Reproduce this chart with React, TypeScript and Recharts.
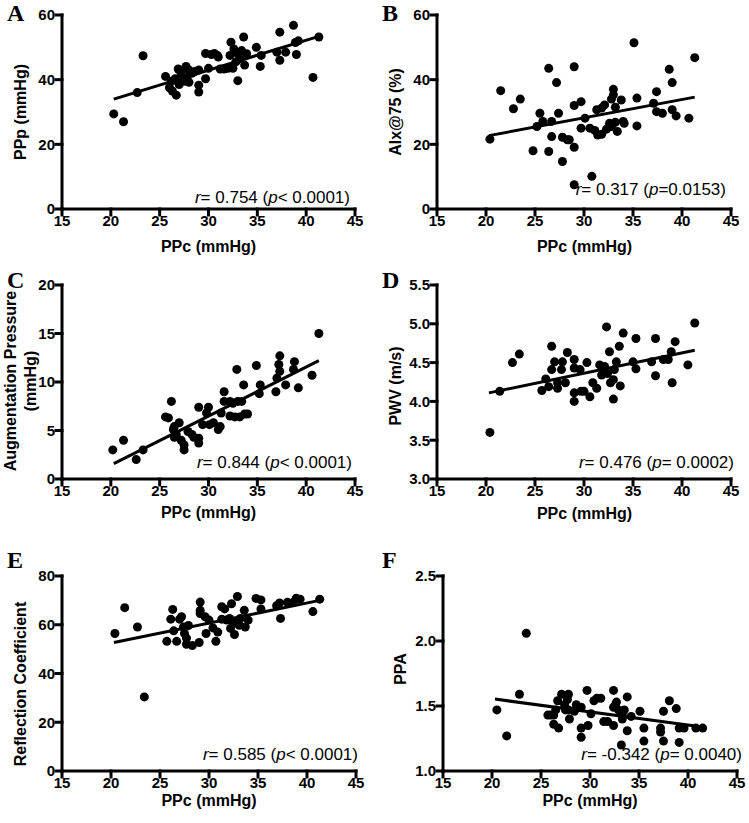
import React from 'react';
import { ScatterChart, Scatter, XAxis, YAxis, ReferenceLine } from 'recharts';

// ---------- data ----------
const xTicks = [15, 20, 25, 30, 35, 40, 45];

const pointsA: [number, number][] = [
  [20.3, 29.4], [21.3, 27.0], [22.7, 36.0], [23.3, 47.4], [25.6, 41.0], [26.0, 37.5], [26.3, 36.5],
  [26.7, 35.2], [26.2, 39.5], [26.6, 40.3], [26.9, 43.3], [27.2, 42.0], [27.5, 39.5], [27.7, 44.1],
  [27.8, 40.5], [28.0, 39.2], [28.3, 42.0], [28.6, 42.5], [29.0, 43.0], [29.0, 38.3], [29.0, 36.2],
  [29.7, 40.3], [29.7, 48.1], [30.0, 43.5], [30.6, 48.1], [30.9, 47.5], [31.2, 43.3], [31.6, 43.3],
  [32.0, 43.5], [32.2, 47.5], [32.3, 51.6], [32.5, 43.5], [32.6, 49.5], [33.0, 39.7], [33.0, 48.0],
  [33.2, 46.5], [33.4, 49.0], [33.6, 53.2], [33.7, 44.5], [33.9, 48.0], [34.9, 50.0], [35.3, 44.1],
  [35.4, 47.5], [37.0, 48.5], [37.3, 54.7], [37.3, 46.0], [37.9, 48.5], [38.7, 56.8], [38.9, 51.5],
  [39.0, 47.8], [39.2, 52.0], [40.7, 40.7], [41.3, 53.2], [32.8, 45.5], [31.0, 47.0], [28.0, 43.0],
  [27.0, 38.5], [30.3, 47.8],
];
const lineA = [{ x: 20.3, y: 34.0 }, { x: 41.3, y: 53.4 }];

const pointsB: [number, number][] = [
  [20.4, 21.6], [21.5, 36.6], [22.8, 31.0], [23.5, 34.0], [24.8, 18.0], [25.2, 25.5], [25.5, 29.6],
  [26.4, 43.5], [25.8, 27.1], [26.7, 27.1], [26.7, 22.4], [27.2, 39.1], [27.4, 29.6], [26.4, 17.8],
  [27.8, 14.7], [27.8, 22.2], [28.3, 21.4], [28.5, 21.4], [29.0, 19.1], [29.0, 32.0], [29.0, 44.0],
  [29.0, 7.5], [29.7, 33.2], [29.7, 25.0], [30.1, 28.1], [30.6, 25.0], [30.8, 10.1], [31.1, 24.3],
  [31.3, 30.7], [31.4, 22.9], [31.8, 23.1], [31.8, 31.2], [32.1, 32.2], [32.3, 24.7], [32.6, 26.5],
  [32.8, 34.0], [33.0, 35.3], [33.0, 37.0], [33.2, 31.5], [32.8, 25.5], [33.2, 26.8], [33.4, 24.0],
  [33.8, 33.7], [34.0, 27.1], [34.1, 26.5], [35.1, 51.4], [35.4, 34.3], [35.4, 25.7], [37.1, 32.7],
  [37.4, 36.3], [37.4, 30.1], [38.0, 29.6], [38.7, 43.2], [39.0, 30.7], [39.0, 39.1], [39.4, 28.8],
  [40.7, 28.1], [41.3, 46.8],
];
const lineB = [{ x: 20.3, y: 22.7 }, { x: 41.3, y: 34.6 }];

const pointsC: [number, number][] = [
  [20.2, 3.0], [21.3, 4.0], [22.6, 2.0], [23.3, 3.0], [25.6, 6.4], [25.9, 6.3], [26.2, 8.0],
  [26.4, 5.1], [26.5, 5.4], [26.7, 4.6], [26.5, 4.3], [27.0, 5.8], [27.2, 4.0], [27.5, 3.0],
  [27.5, 3.5], [27.9, 4.9], [28.3, 4.6], [28.5, 4.3], [29.0, 7.4], [29.0, 3.7], [29.0, 4.2],
  [29.4, 5.6], [29.8, 6.8], [30.0, 7.4], [30.1, 5.6], [30.5, 5.8], [31.0, 5.1], [31.2, 5.4],
  [31.3, 6.8], [31.6, 9.0], [31.6, 8.0], [32.2, 8.0], [32.2, 6.5], [32.5, 7.8], [32.7, 6.4],
  [32.9, 11.3], [33.0, 8.0], [33.2, 6.4], [33.4, 8.0], [33.6, 9.7], [33.7, 6.7], [34.0, 6.7],
  [34.9, 11.7], [35.2, 8.8], [35.3, 9.7], [36.9, 9.0], [37.0, 10.4], [37.2, 11.8], [37.3, 12.7],
  [37.3, 11.1], [37.9, 9.7], [38.7, 11.3], [38.8, 12.1], [39.2, 9.4], [40.6, 10.7], [41.3, 15.0],
];
const lineC = [{ x: 20.3, y: 1.58 }, { x: 41.3, y: 12.2 }];

const pointsD: [number, number][] = [
  [20.4, 3.6], [21.4, 4.13], [22.7, 4.5], [23.4, 4.61], [25.7, 4.14], [26.1, 4.29], [26.4, 4.19],
  [26.7, 4.41], [26.7, 4.71], [27.0, 4.51], [27.3, 4.24], [27.3, 4.17], [27.7, 4.41], [27.8, 4.51],
  [28.1, 4.24], [28.3, 4.63], [29.0, 4.54], [29.0, 4.43], [29.0, 4.11], [29.0, 4.0], [29.6, 4.41],
  [29.7, 4.13], [30.0, 4.13], [30.3, 4.5], [30.6, 4.06], [30.9, 4.24], [31.3, 4.17], [31.6, 4.47],
  [31.8, 4.34], [32.1, 4.45], [32.3, 4.96], [32.4, 4.36], [32.6, 4.64], [32.7, 4.24], [33.0, 4.28],
  [33.0, 4.03], [33.1, 4.41], [33.3, 4.51], [33.6, 4.71], [33.7, 4.2], [34.0, 4.88], [35.3, 4.81],
  [35.3, 4.42], [35.0, 4.51], [36.9, 4.51], [37.3, 4.81], [37.3, 4.33], [38.1, 4.54], [38.6, 4.54],
  [38.9, 4.64], [39.0, 4.24], [39.3, 4.77], [40.6, 4.47], [41.3, 5.01],
];
const lineD = [{ x: 20.3, y: 4.11 }, { x: 41.3, y: 4.66 }];

const pointsE: [number, number][] = [
  [20.4, 56.4], [21.4, 67.0], [22.7, 59.1], [23.4, 30.4], [25.7, 53.2], [26.1, 62.3], [26.3, 66.3],
  [26.4, 57.5], [26.7, 53.2], [27.0, 62.3], [27.2, 63.3], [27.4, 59.1], [27.5, 56.4], [27.7, 54.5],
  [27.7, 52.0], [27.9, 59.7], [28.3, 51.5], [29.0, 52.7], [29.1, 69.3], [29.1, 65.9], [29.1, 64.6],
  [29.6, 63.3], [29.7, 56.4], [30.0, 61.9], [30.4, 58.7], [30.7, 53.2], [30.9, 57.0], [31.3, 67.4],
  [31.3, 62.3], [31.6, 66.5], [31.8, 61.9], [32.1, 62.6], [32.2, 58.5], [32.3, 68.6], [32.5, 60.5],
  [32.6, 56.0], [32.9, 71.6], [32.8, 61.2], [33.1, 59.8], [33.2, 62.6], [33.6, 65.9], [33.7, 59.1],
  [34.0, 61.9], [34.8, 70.8], [35.3, 70.2], [35.3, 66.5], [36.9, 67.8], [37.2, 68.9], [37.3, 62.6],
  [38.0, 69.2], [38.6, 69.2], [38.9, 70.9], [39.3, 70.5], [40.6, 65.4], [41.3, 70.5],
];
const lineE = [{ x: 20.3, y: 52.7 }, { x: 41.3, y: 70.0 }];

const pointsF: [number, number][] = [
  [20.5, 1.47], [21.5, 1.27], [22.8, 1.59], [23.5, 2.06], [25.7, 1.43], [26.0, 1.43], [26.3, 1.43],
  [26.5, 1.47], [26.7, 1.54], [26.3, 1.36], [26.8, 1.33], [27.1, 1.59], [27.4, 1.51], [27.5, 1.47],
  [27.7, 1.55], [27.8, 1.59], [27.8, 1.47], [27.9, 1.40], [28.4, 1.46], [28.6, 1.51], [29.1, 1.49],
  [29.1, 1.33], [29.1, 1.26], [29.7, 1.62], [29.8, 1.35], [30.1, 1.44], [30.4, 1.54], [30.7, 1.56],
  [31.1, 1.56], [31.4, 1.38], [31.8, 1.38], [32.4, 1.62], [32.4, 1.49], [32.4, 1.35], [32.6, 1.51],
  [32.7, 1.53], [32.9, 1.47], [33.2, 1.20], [33.3, 1.44], [33.3, 1.40], [33.5, 1.47], [33.8, 1.31],
  [33.8, 1.57], [34.2, 1.42], [35.1, 1.46], [35.5, 1.33], [35.5, 1.23], [37.2, 1.33], [37.2, 1.30],
  [37.5, 1.46], [37.5, 1.23], [38.1, 1.54], [38.8, 1.48], [39.1, 1.22], [39.1, 1.33], [39.6, 1.33],
  [40.8, 1.33], [41.5, 1.33],
];
const lineF = [{ x: 20.3, y: 1.553 }, { x: 41.3, y: 1.34 }];

const ticksA = [0, 20, 40, 60];
const ticksB = [0, 20, 40, 60];
const ticksC = [0, 5, 10, 15, 20];
const ticksD = [3.0, 3.5, 4.0, 4.5, 5.0, 5.5];
const ticksE = [0, 20, 40, 60, 80];
const ticksF = [1.0, 1.5, 2.0, 2.5];

// ---------- styles ----------
const SANS = '"Liberation Sans", Arial, Helvetica, sans-serif';
const SERIF = '"Liberation Serif", "Times New Roman", serif';
const axisStyle = { stroke: '#000', strokeWidth: 3, strokeLinecap: 'square' as const };
const tickStyle = { fill: '#000', fontSize: 15, fontWeight: 700, fontFamily: SANS };

const Dot = (props: any) =>
  props.cx == null ? null : <circle cx={props.cx} cy={props.cy} r={4.5} fill="#000" />;

type PanelCfg = {
  left: number; top: number; width: number; height: number;
  mt: number; mr: number; xh: number; yw: number;
  domain: [number, number]; ticks: number[]; fixed: boolean;
  points: [number, number][]; line: { x: number; y: number }[];
};

const panels: PanelCfg[] = [
  { left: 0, top: 0, width: 375, height: 270, mt: 15, mr: 20, xh: 61, yw: 62, domain: [0, 60], ticks: ticksA, fixed: false, points: pointsA, line: lineA },
  { left: 375, top: 0, width: 374, height: 270, mt: 15, mr: 18, xh: 61, yw: 62, domain: [0, 60], ticks: ticksB, fixed: false, points: pointsB, line: lineB },
  { left: 0, top: 270, width: 375, height: 270, mt: 15, mr: 20, xh: 61, yw: 62, domain: [0, 20], ticks: ticksC, fixed: false, points: pointsC, line: lineC },
  { left: 375, top: 270, width: 374, height: 270, mt: 15, mr: 18, xh: 61, yw: 62, domain: [3, 5.5], ticks: ticksD, fixed: true, points: pointsD, line: lineD },
  { left: 0, top: 545, width: 375, height: 278, mt: 31, mr: 19, xh: 52, yw: 62, domain: [0, 80], ticks: ticksE, fixed: false, points: pointsE, line: lineE },
  { left: 375, top: 545, width: 374, height: 278, mt: 31, mr: 12, xh: 52, yw: 68, domain: [1, 2.5], ticks: ticksF, fixed: true, points: pointsF, line: lineF },
];

function Panel({ cfg }: { cfg: PanelCfg }) {
  const data = cfg.points.map(([x, y]) => ({ x, y }));
  return (
    <div style={{ position: 'absolute', left: cfg.left, top: cfg.top }}>
      <ScatterChart width={cfg.width} height={cfg.height} margin={{ top: cfg.mt, right: cfg.mr, bottom: 0, left: 0 }}>
        <XAxis
          type="number" dataKey="x" domain={[15, 45]} ticks={xTicks} interval={0}
          height={cfg.xh} tickSize={6} tickMargin={0}
          axisLine={axisStyle} tickLine={axisStyle} tick={tickStyle} allowDataOverflow
        />
        <YAxis
          type="number" dataKey="y" domain={cfg.domain} ticks={cfg.ticks} interval={0}
          width={cfg.yw} tickSize={6} tickMargin={1}
          tickFormatter={(v: number) => (cfg.fixed ? v.toFixed(1) : String(v))}
          axisLine={axisStyle} tickLine={axisStyle} tick={tickStyle} allowDataOverflow
        />
        <ReferenceLine segment={cfg.line} stroke="#000" strokeWidth={3} ifOverflow="visible" />
        <Scatter data={data} shape={Dot} isAnimationActive={false} />
      </ScatterChart>
    </div>
  );
}

const letters = [
  { t: 'A', x: 7, y: 1 }, { t: 'B', x: 382, y: 1 },
  { t: 'C', x: 7, y: 268 }, { t: 'D', x: 382, y: 268 },
  { t: 'E', x: 7, y: 548 }, { t: 'F', x: 382, y: 548 },
];

const xTitles = [
  { cx: 208.5, top: 238 }, { cx: 584.5, top: 238 },
  { cx: 208.5, top: 504 }, { cx: 584.5, top: 505 },
  { cx: 209, top: 792 }, { cx: 590, top: 792 },
];

const yTitles = [
  { lines: ['PPp (mmHg)'], cx: 21, cy: 112 },
  { lines: ['AIx@75 (%)'], cx: 396, cy: 112 },
  { lines: ['Augmentation Pressure', '(mmHg)'], cx: 21, cy: 381 },
  { lines: ['PWV (m/s)'], cx: 396, cy: 386 },
  { lines: ['Reflection Coefficient'], cx: 21, cy: 684 },
  { lines: ['PPA'], cx: 401, cy: 669 },
];

const stats = [
  { r: '0.754', p: '< 0.0001', right: 350, cy: 198 },
  { r: '0.317', p: '=0.0153', right: 726, cy: 190 },
  { r: '0.844', p: '< 0.0001', right: 352, cy: 463 },
  { r: '0.476', p: '= 0.0002', right: 734, cy: 463 },
  { r: '0.585', p: '< 0.0001', right: 358, cy: 755 },
  { r: '-0.342', p: '= 0.0040', right: 742, cy: 755 },
];

export default function App() {
  return (
    <div style={{ position: 'absolute', left: 0, top: 0, width: 749, height: 823, background: '#fff', overflow: 'hidden' }}>
      {panels.map((p, i) => <Panel key={i} cfg={p} />)}
      {letters.map((l) => (
        <div key={l.t} style={{ position: 'absolute', left: l.x, top: l.y, fontFamily: SERIF, fontWeight: 700, fontSize: 24, lineHeight: '24px', color: '#000' }}>{l.t}</div>
      ))}
      {xTitles.map((t, i) => (
        <div key={i} style={{ position: 'absolute', left: t.cx - 100, width: 200, top: t.top, textAlign: 'center', fontFamily: SANS, fontWeight: 700, fontSize: 16, lineHeight: '18px', color: '#000', whiteSpace: 'nowrap' }}>PPc (mmHg)</div>
      ))}
      {yTitles.map((t, i) => (
        <div key={i} style={{ position: 'absolute', left: t.cx, top: t.cy, transform: 'translate(-50%, -50%) rotate(-90deg)', textAlign: 'center', fontFamily: SANS, fontWeight: 700, fontSize: 16, lineHeight: '20px', color: '#000', whiteSpace: 'nowrap' }}>
          {t.lines.map((ln, j) => <div key={j}>{ln}</div>)}
        </div>
      ))}
      {stats.map((s, i) => (
        <div key={i} style={{ position: 'absolute', right: 749 - s.right, top: s.cy - 10, fontFamily: SANS, fontSize: 17, lineHeight: '19px', color: '#000', whiteSpace: 'nowrap' }}>
          <i>r</i>= {s.r} (<i>p</i>{s.p})
        </div>
      ))}
    </div>
  );
}
